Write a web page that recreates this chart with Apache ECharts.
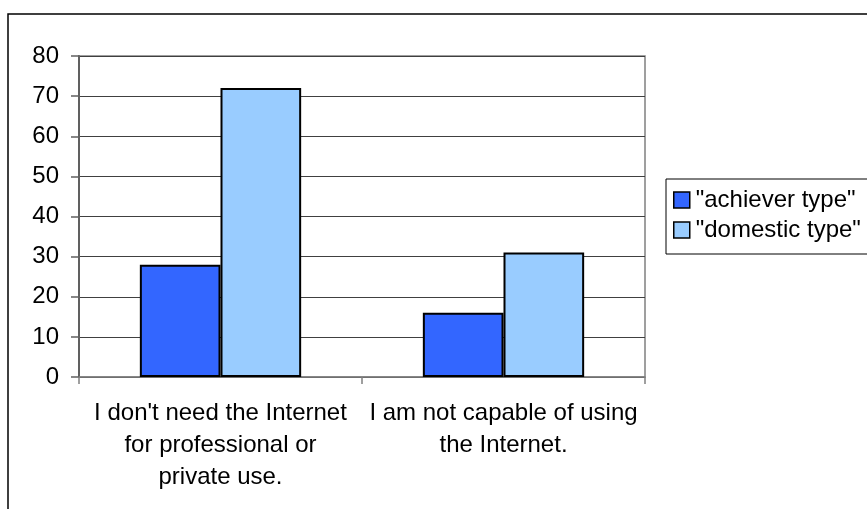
<!DOCTYPE html>
<html>
<head>
<meta charset="utf-8">
<script src="https://cdn.jsdelivr.net/npm/echarts@6/dist/echarts.min.js"></script>
<style>
  html, body { margin: 0; padding: 0; background: #fff; }
  #chart { width: 867px; height: 509px; }
</style>
</head>
<body>
<div id="chart"></div>
<script>
// data
const categories = [
  "I don't need the Internet\nfor professional or\nprivate use.",
  'I am not capable of using\nthe Internet.'
]
const seriesNames = ['"achiever type"', '"domestic type"']
const achiever = [28, 16]
const domestic = [72, 31]

const font = 'Liberation Sans, Arial, sans-serif'
const fs = 24

const myChart = echarts.init(document.getElementById('chart'))
const option = {
  animation: false,
  textStyle: { fontFamily: font },
  graphic: [
    {
      type: 'rect',
      shape: { x: 8, y: 14, width: 900, height: 600 },
      style: { fill: 'none', stroke: '#000', lineWidth: 1.5 },
      silent: true
    }
  ],
  grid: {
    left: 79,
    right: 867 - 645,
    top: 56,
    bottom: 509 - 377,
    show: true,
    borderColor: '#808080',
    borderWidth: 1.5
  },
  legend: {
    orient: 'vertical',
    left: 666,
    top: 179,
    data: seriesNames,
    icon: 'rect',
    itemWidth: 16,
    itemHeight: 16,
    itemGap: 6,
    padding: [9, 20, 12, 7],
    borderColor: '#000',
    borderWidth: 1,
    borderRadius: 0,
    itemStyle: { borderColor: '#000', borderWidth: 1.5 },
    textStyle: { fontSize: fs, color: '#000', fontFamily: font, padding: [0, 0, 0, 1] }
  },
  xAxis: {
    type: 'category',
    data: categories,
    axisLine: { lineStyle: { color: '#808080', width: 1.5 } },
    axisTick: { show: true, length: 7, lineStyle: { color: '#808080', width: 1.5 } },
    axisLabel: {
      interval: 0,
      fontSize: fs,
      color: '#000',
      lineHeight: 32,
      margin: 20,
      fontFamily: font
    }
  },
  yAxis: {
    type: 'value',
    min: 0,
    max: 80,
    interval: 10,
    axisLine: { show: true, lineStyle: { color: '#606060', width: 2 } },
    axisTick: { show: true, length: 8, lineStyle: { color: '#606060', width: 1.5 } },
    splitLine: { lineStyle: { color: '#404040', width: 1 } },
    axisLabel: { fontSize: fs, color: '#000', margin: 20, fontFamily: font }
  },
  series: [
    {
      name: seriesNames[0],
      type: 'bar',
      data: achiever,
      barGap: '0%',
      barCategoryGap: '43%',
      itemStyle: { color: '#3366FF', borderColor: '#000', borderWidth: 2 }
    },
    {
      name: seriesNames[1],
      type: 'bar',
      data: domestic,
      itemStyle: { color: '#99CCFF', borderColor: '#000', borderWidth: 2 }
    }
  ]
}
myChart.setOption(option, true)
</script>
</body>
</html>
